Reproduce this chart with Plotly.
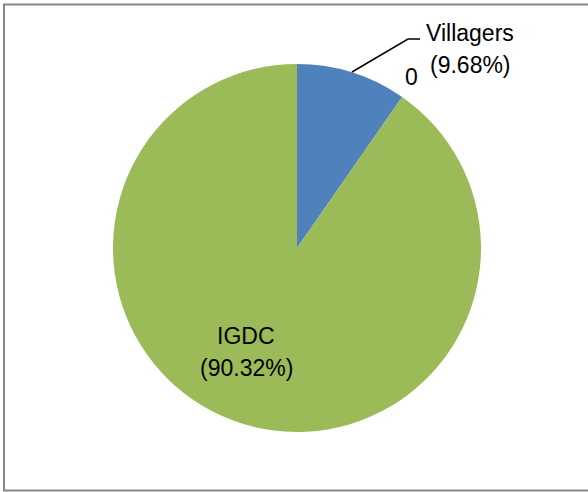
import plotly.graph_objects as go

labels = ["Villagers", "IGDC"]
values = [3, 28]
percent_text = ["(9.68%)", "(90.32%)"]
colors = ["#4F81BD", "#9BBB59"]

W, H = 588, 492

def px(x):
    return x / W

def py(y):
    return 1 - y / H

cx, cy, r = 297, 248, 184

fig = go.Figure(go.Pie(
    labels=labels,
    values=values,
    sort=False,
    direction="clockwise",
    rotation=0,
    textinfo="none",
    hoverinfo="label+percent",
    marker=dict(colors=colors, line=dict(width=0)),
    domain=dict(x=[px(cx - r), px(cx + r)], y=[py(cy + r), py(cy - r)]),
    showlegend=False,
))

font = dict(family="Liberation Sans, Arial, sans-serif", size=23, color="#000000")

ann = [
    dict(x=px(470), y=py(33), text=labels[0]),
    dict(x=px(470), y=py(65), text=percent_text[0]),
    dict(x=px(411), y=py(77), text="0"),
    dict(x=px(246), y=py(336), text=labels[1]),
    dict(x=px(246), y=py(368), text=percent_text[1]),
]
annotations = [dict(a, xref="paper", yref="paper", xanchor="center", yanchor="middle",
                    showarrow=False, font=font) for a in ann]

shapes = [
    # chart border (left, top, bottom)
    dict(type="path", xref="paper", yref="paper",
         path=f"M 1.02 {py(4.5)} L {px(4)} {py(4.5)} L {px(4)} {py(490.5)} L 1.02 {py(490.5)}",
         line=dict(color="#878787", width=2)),
    # leader line
    dict(type="path", xref="paper", yref="paper",
         path=f"M {px(352)} {py(72)} L {px(408)} {py(39)} L {px(420)} {py(39)}",
         line=dict(color="#000000", width=1.5)),
]

fig.update_layout(
    width=W, height=H,
    margin=dict(l=0, r=0, t=0, b=0),
    paper_bgcolor="white",
    plot_bgcolor="white",
    annotations=annotations,
    shapes=shapes,
)

fig.write_html("out.html", config={"displayModeBar": False},
               post_script="document.body.style.margin='0';document.body.style.overflow='hidden';")
